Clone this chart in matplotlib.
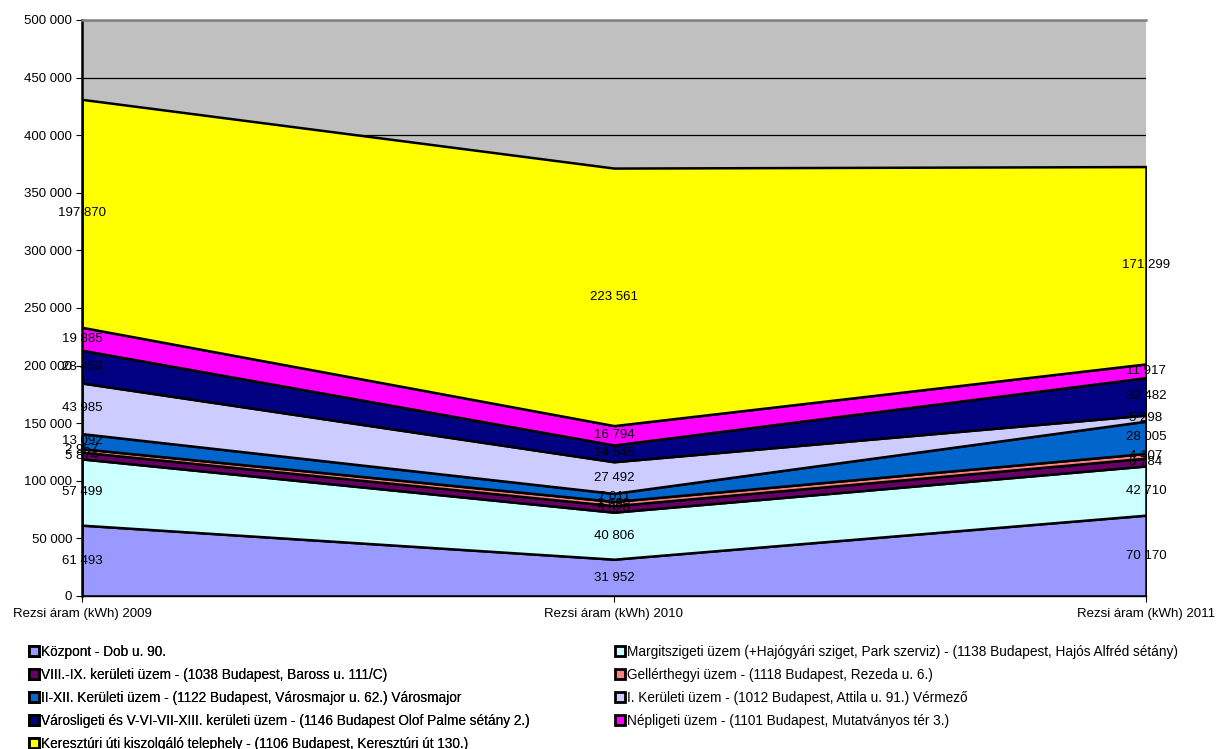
import matplotlib
matplotlib.use("Agg")
import matplotlib.pyplot as plt
from matplotlib.ticker import FuncFormatter, MultipleLocator
from matplotlib.patches import Patch
import numpy as np

plt.rcParams['font.family'] = ['Liberation Sans', 'DejaVu Sans']

categories = ["Rezsi áram (kWh) 2009", "Rezsi áram (kWh) 2010", "Rezsi áram (kWh) 2011"]

series_names = [
    "Központ - Dob u. 90.",
    "Margitszigeti üzem (+Hajógyári sziget, Park szerviz) - (1138 Budapest, Hajós Alfréd sétány)",
    "VIII.-IX. kerületi üzem - (1038 Budapest, Baross u. 111/C)",
    "Gellérthegyi üzem - (1118 Budapest, Rezeda u. 6.)",
    "II-XII. Kerületi üzem - (1122 Budapest, Városmajor u. 62.) Városmajor",
    "I. Kerületi üzem - (1012 Budapest, Attila u. 91.) Vérmező",
    "Városligeti és V-VI-VII-XIII. kerületi üzem - (1146 Budapest Olof Palme sétány 2.)",
    "Népligeti üzem - (1101 Budapest, Mutatványos tér 3.)",
    "Keresztúri úti kiszolgáló telephely - (1106 Budapest, Keresztúri út 130.)",
]

kozpont = [61493, 31952, 70170]
margitszigeti = [57499, 40806, 42710]
viii_ix = [5874, 5620, 6784]
gellerthegyi = [2957, 3680, 4107]
ii_xii = [13092, 7011, 28005]
i_ker = [43985, 27492, 5298]
varosligeti = [28453, 14545, 32482]
nepligeti = [19885, 16794, 11917]
kereszturi = [197870, 223561, 171299]

values = [kozpont, margitszigeti, viii_ix, gellerthegyi, ii_xii, i_ker,
          varosligeti, nepligeti, kereszturi]
colors = ["#9999FF", "#CCFFFF", "#660066", "#FF8080", "#0066CC", "#CCCCFF",
          "#000080", "#FF00FF", "#FFFF00"]

FS = 9.5

fig = plt.figure(figsize=(12.29, 7.49), dpi=100)
ax = fig.add_axes([82/1229, 1-596/749, (1146-82)/1229, (596-20)/749])
ax.set_facecolor("#C0C0C0")

x = np.arange(len(categories))
ax.set_axisbelow(True)
ax.yaxis.grid(True, color="black", linewidth=0.9)
ax.stackplot(x, *values, colors=colors, edgecolor="black", linewidth=1.8, zorder=2)

ax.set_xlim(0, 2)
ax.set_ylim(0, 500000)
ax.yaxis.set_major_locator(MultipleLocator(50000))
fmt = lambda v: f"{int(round(v)):,}".replace(",", " ")
ax.yaxis.set_major_formatter(FuncFormatter(lambda v, p: fmt(v)))
ax.set_xticks(x)
ax.set_xticklabels(categories)
ax.tick_params(axis='both', labelsize=FS, length=4, color="black", direction="out")
ax.tick_params(axis='x', pad=5)
ax.tick_params(axis='y', pad=3)

for s in ["top", "right"]:
    ax.spines[s].set_visible(False)
ax.spines["left"].set_linewidth(1.8)
ax.spines["bottom"].set_linewidth(1.0)
ax.axhline(500000, color="#808080", linewidth=1.8, zorder=3, clip_on=False)

cum = np.zeros(len(categories))
for vals in values:
    v = np.array(vals, dtype=float)
    for i in range(len(categories)):
        ax.text(x[i], cum[i] + v[i] / 2, fmt(v[i]), ha="center", va="center",
                fontsize=FS, color="black", zorder=5, clip_on=False)
    cum += v

handles = [Patch(facecolor=c, edgecolor="black", linewidth=2) for c in colors]
leg_kw = dict(loc="upper left", frameon=False, fontsize=9.8, handlelength=0.7,
              handleheight=0.7, handletextpad=0.2, labelspacing=0.66,
              borderaxespad=0, borderpad=0)
left_idx = [0, 2, 4, 6, 8]
right_idx = [1, 3, 5, 7]
leg1 = fig.legend([handles[i] for i in left_idx], [series_names[i] for i in left_idx],
                  bbox_to_anchor=(29/1229, 1-645/749), **leg_kw)
fig.add_artist(leg1)
fig.legend([handles[i] for i in right_idx], [series_names[i] for i in right_idx],
           bbox_to_anchor=(615/1229, 1-645/749), **leg_kw)

fig.savefig("out.png", dpi=100)
